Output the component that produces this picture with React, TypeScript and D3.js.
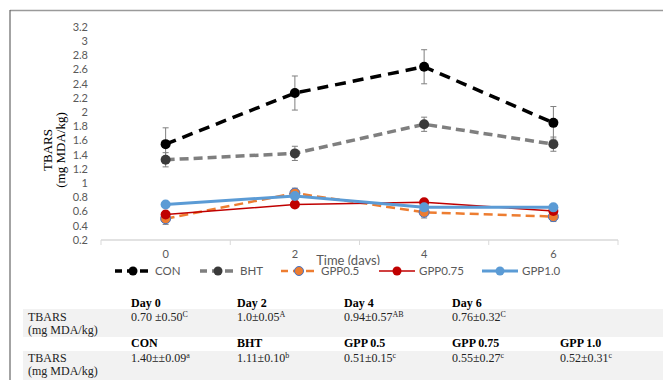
import React from 'react';
import * as d3 from 'd3';

const days = ['0', '2', '4', '6'];
const seriesNames = ['CON', 'BHT', 'GPP0.5', 'GPP0.75', 'GPP1.0'];
const conVals = [1.55, 2.27, 2.64, 1.85];
const conErr = [0.23, 0.24, 0.24, 0.23];
const bhtVals = [1.33, 1.42, 1.83, 1.55];
const bhtErr = [0.1, 0.1, 0.1, 0.1];
const gpp05Vals = [0.5, 0.86, 0.59, 0.53];
const gpp05Err = [0.08, 0.07, 0.08, 0.07];
const gpp075Vals = [0.56, 0.7, 0.73, 0.61];
const gpp10Vals = [0.7, 0.82, 0.66, 0.66];

const dayHeaders = ['Day 0', 'Day 2', 'Day 4', 'Day 6'];
const dayCells = [['0.70 ±0.50', 'C'], ['1.0±0.05', 'A'], ['0.94±0.57', 'AB'], ['0.76±0.32', 'C']];
const trtHeaders = ['CON', 'BHT', 'GPP 0.5', 'GPP 0.75', 'GPP 1.0'];
const trtCells = [['1.40±±0.09', 'a'], ['1.11±0.10', 'b'], ['0.51±0.15', 'c'], ['0.55±0.27', 'c'], ['0.52±0.31', 'c']];

const styles: Record<string, any> = {
  CON: { stroke: '#000', width: 3.5, dash: '11,7', fill: '#000', mStroke: 'none' },
  BHT: { stroke: '#7f7f7f', width: 3.5, dash: '9,5', fill: '#3a3a3a', mStroke: 'none' },
  'GPP0.5': { stroke: '#ed7d31', width: 2.5, dash: '9,5', fill: '#ed7d31', mStroke: '#4472c4' },
  'GPP0.75': { stroke: '#c00000', width: 1.5, dash: null, fill: '#c00000', mStroke: 'none' },
  'GPP1.0': { stroke: '#5b9bd5', width: 3, dash: null, fill: '#5b9bd5', mStroke: 'none' },
};

const series = [
  { name: 'CON', vals: conVals, err: conErr },
  { name: 'BHT', vals: bhtVals, err: bhtErr },
  { name: 'GPP0.5', vals: gpp05Vals, err: gpp05Err },
  { name: 'GPP0.75', vals: gpp075Vals, err: null },
  { name: 'GPP1.0', vals: gpp10Vals, err: null },
];

const sans = 'Lato, "Open Sans", sans-serif';
const serif = '"Liberation Serif", "Times New Roman", serif';

export default function App() {
  const x = d3.scaleBand().domain(days).range([101, 618]);
  const y = d3.scaleLinear().domain([0.2, 3.2]).range([240, 27]);
  const cx = (d: string) => (x(d) as number) + x.bandwidth() / 2;
  const yTicks = y.ticks(15);
  const line = d3.line<number>().x((_, i) => cx(days[i])).y(v => y(v));

  const legendX = d3.scalePoint().domain(seriesNames).range([133, 500]);
  const legendPos: Record<string, number> = { CON: 133, BHT: 218, 'GPP0.5': 299, 'GPP0.75': 397, 'GPP1.0': 500 };

  const tableCols = [131, 237, 344, 452, 560];

  return (
    <svg width={663} height={380} style={{ position: 'absolute', left: 0, top: 0, background: '#fff' }}>
      <line x1={10} x2={663} y1={10.5} y2={10.5} stroke="#9a9a9a" strokeWidth={1.5} />
      <line x1={10} x2={10} y1={10} y2={380} stroke="#666" strokeWidth={1.2} />

      {/* y ticks */}
      {yTicks.map(t => (
        <text key={t} x={88} y={y(t)} dy="0.35em" textAnchor="end" fontFamily={sans} fontSize={11} fill="#595959">
          {String(+t.toFixed(1))}
        </text>
      ))}

      {/* x axis */}
      <line x1={101} x2={618} y1={240} y2={240} stroke="#d9d9d9" strokeWidth={1.5} />
      {[...days.map(d => x(d) as number), 618].map((t, i) => (
        <line key={i} x1={t} x2={t} y1={240} y2={245} stroke="#d9d9d9" strokeWidth={1} />
      ))}
      {days.map(d => (
        <text key={d} x={cx(d)} y={254} dy="0.35em" textAnchor="middle" fontFamily={sans} fontSize={11} fill="#595959">{d}</text>
      ))}
      <text x={348} y={265} textAnchor="middle" fontFamily={sans} fontSize={13} fill="#595959">Time (days)</text>

      {/* y title */}
      <g transform="translate(47,150) rotate(-90)">
        <text textAnchor="middle" dy="0.35em" fontFamily={serif} fontSize={13} fill="#000">TBARS</text>
      </g>
      <g transform="translate(60,150) rotate(-90)">
        <text textAnchor="middle" dy="0.35em" fontFamily={serif} fontSize={13} fill="#000">(mg MDA/kg)</text>
      </g>

      {/* error bars */}
      {series.filter(s => s.err).map(s => (
        <g key={s.name + 'err'} stroke="#7f7f7f" strokeWidth={1}>
          {s.vals.map((v, i) => {
            const px = cx(days[i]);
            const hi = y(v + (s.err as number[])[i]);
            const lo = y(v - (s.err as number[])[i]);
            return (
              <g key={i}>
                <line x1={px} x2={px} y1={hi} y2={lo} />
                <line x1={px - 3} x2={px + 3} y1={hi} y2={hi} />
                <line x1={px - 3} x2={px + 3} y1={lo} y2={lo} />
              </g>
            );
          })}
        </g>
      ))}

      {/* lines */}
      {series.map(s => {
        const st = styles[s.name];
        return (
          <g key={s.name}>
            <path d={line(s.vals) as string} fill="none" stroke={st.stroke} strokeWidth={st.width}
              strokeDasharray={st.dash || undefined} />
            {s.vals.map((v, i) => (
              <circle key={i} cx={cx(days[i])} cy={y(v)} r={5} fill={st.fill} stroke={st.mStroke} strokeWidth={1} />
            ))}
          </g>
        );
      })}

      {/* legend */}
      <rect x={105} y={265} width={470} height={14} fill="#fff" />
      {seriesNames.map(n => {
        const st = styles[n];
        const p = legendPos[n] ?? legendX(n);
        return (
          <g key={n}>
            <line x1={p - 18} x2={p + 18} y1={271} y2={271} stroke={st.stroke} strokeWidth={st.width}
              strokeDasharray={st.dash ? '8,5' : undefined} strokeDashoffset={st.dash ? 1 : 0} />
            <circle cx={p} cy={271} r={4.5} fill={st.fill} stroke={st.mStroke} strokeWidth={1} />
            <text x={p + 22} y={271} dy="0.35em" fontFamily={sans} fontSize={11.5} fill="#595959">{n}</text>
          </g>
        );
      })}

      {/* table */}
      <rect x={23} y={309} width={640} height={28} fill="#f2f2f2" />
      <rect x={23} y={351} width={640} height={29} fill="#f2f2f2" />
      {dayHeaders.map((h, i) => (
        <text key={h} x={tableCols[i]} y={307} fontFamily={serif} fontSize={12} fontWeight="bold">{h}</text>
      ))}
      <text x={28} y={321} fontFamily={serif} fontSize={12} fill="#222">TBARS</text>
      <text x={28} y={334} fontFamily={serif} fontSize={12} fill="#222">(mg MDA/kg)</text>
      {dayCells.map((c, i) => (
        <text key={i} x={tableCols[i]} y={321} fontFamily={serif} fontSize={12} fill="#222">
          {c[0]}<tspan fontSize={8} dy={-4}>{c[1]}</tspan>
        </text>
      ))}
      {trtHeaders.map((h, i) => (
        <text key={h} x={tableCols[i]} y={347} fontFamily={serif} fontSize={12} fontWeight="bold">{h}</text>
      ))}
      <text x={28} y={362} fontFamily={serif} fontSize={12} fill="#222">TBARS</text>
      <text x={28} y={375} fontFamily={serif} fontSize={12} fill="#222">(mg MDA/kg)</text>
      {trtCells.map((c, i) => (
        <text key={i} x={tableCols[i]} y={362} fontFamily={serif} fontSize={12} fill="#222">
          {c[0]}<tspan fontSize={8} dy={-4}>{c[1]}</tspan>
        </text>
      ))}
    </svg>
  );
}
